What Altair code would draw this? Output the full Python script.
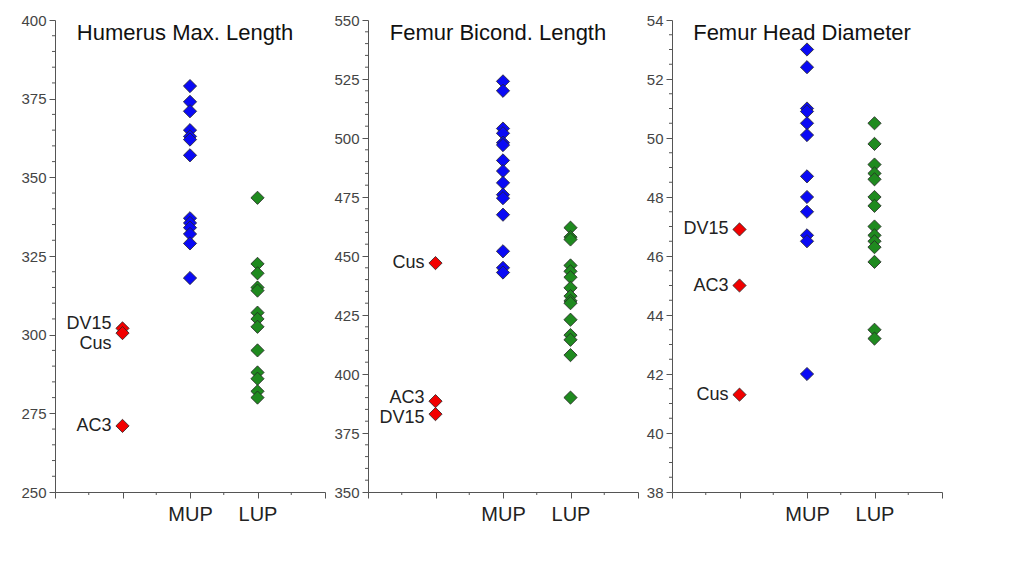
import altair as alt
import pandas as pd

# ---------------- data ----------------
titles = ["Humerus Max. Length", "Femur Bicond. Length", "Femur Head Diameter"]

hum_mup = [379, 374, 371, 365, 363, 362, 357, 337, 335.5, 334, 332, 329, 318]
hum_lup = [343.5, 322.5, 319.5, 315, 314, 307, 305, 302.5, 295, 288, 286, 282, 280]
hum_spec_names = ["DV15", "Cus", "AC3"]
hum_spec_vals = [302, 300.5, 271]

fem_mup = [524, 520, 504, 502, 498, 497, 490.5, 486, 481, 476, 474.5, 467.5, 452, 445, 443]
fem_lup = [462, 458, 457, 446, 443.5, 441, 436.5, 433, 431, 430, 423, 416.5, 414.5, 408, 390]
fem_spec_names = ["Cus", "AC3", "DV15"]
fem_spec_vals = [447, 388.5, 383]

head_mup = [53.0, 52.4, 51.0, 50.9, 50.5, 50.1, 48.7, 48.0, 47.5, 46.7, 46.5, 42.0]
head_lup = [50.5, 49.8, 49.1, 48.8, 48.6, 48.0, 47.7, 47.0, 46.7, 46.5, 46.3, 45.8, 43.5, 43.2]
head_spec_names = ["DV15", "AC3", "Cus"]
head_spec_vals = [46.9, 45.0, 41.3]

y_domains = [(250, 400), (350, 550), (38, 54)]
y_major = [25, 25, 2]
y_minor = [5, 5, 0.5]

# ---------------- helpers ----------------
GROUP_POS = {"spec": 2, "MUP": 4, "LUP": 6}
COLORS = {"spec": "#f20000", "MUP": "#0a0af5", "LUP": "#1f8a1f"}
FONT = "Liberation Sans"
W, H = 270, 472
AXIS_COLOR = "#555"

# label vertical nudges (pixels) to keep overlapping labels readable
NUDGE = {
    0: {"DV15": -4, "Cus": 11, "AC3": 0},
    1: {"Cus": 0, "AC3": -3, "DV15": 4},
    2: {"DV15": 0, "AC3": 0, "Cus": 0},
}


def frame(mup, lup, names, vals):
    rows = []
    for v in mup:
        rows.append({"group": "MUP", "value": v, "name": ""})
    for v in lup:
        rows.append({"group": "LUP", "value": v, "name": ""})
    for n, v in zip(names, vals):
        rows.append({"group": "spec", "value": v, "name": n})
    df = pd.DataFrame(rows)
    df["pos"] = df["group"].map(GROUP_POS)
    return df


def panel(i, df):
    lo, hi = y_domains[i]
    maj, mnr = y_major[i], y_minor[i]
    nmaj = int(round((hi - lo) / maj))
    major_vals = [float(lo + k * maj) for k in range(nmaj + 1)]
    nmin = int(round((hi - lo) / mnr))
    minor_vals = [round(lo + k * mnr, 3) for k in range(nmin + 1)]
    minor_vals = [v for v in minor_vals if all(abs(v - m) > 1e-6 for m in major_vals)]

    xscale = alt.Scale(domain=[0, 8], nice=False, zero=False)
    yscale = alt.Scale(domain=[lo, hi], nice=False, zero=False)

    xaxis = alt.Axis(
        values=[0, 2, 4, 6, 8],
        labelExpr="datum.value == 4 ? 'MUP' : datum.value == 6 ? 'LUP' : ''",
        title=None,
        grid=False,
        labelFontSize=20,
        labelColor="#222",
        labelFont=FONT,
        labelPadding=6,
        labelFlush=False,
        labelOverlap=False,
        tickSize=6,
        tickColor=AXIS_COLOR,
        domainColor=AXIS_COLOR,
    )
    yaxis = alt.Axis(
        values=major_vals,
        title=None,
        grid=False,
        labelFontSize=15,
        labelColor="#444",
        labelFont=FONT,
        labelPadding=3,
        labelOverlap=False,
        tickSize=6,
        tickColor=AXIS_COLOR,
        domainColor=AXIS_COLOR,
    )

    def X(field="pos"):
        return alt.X(f"{field}:Q", scale=xscale, axis=xaxis)

    def Y(field="value"):
        return alt.Y(f"{field}:Q", scale=yscale, axis=yaxis)

    base = alt.Chart(df)
    pts = base.mark_point(
        shape="diamond", filled=True, size=175, stroke="#262626", strokeWidth=0.8, opacity=1
    ).encode(
        x=X(),
        y=Y(),
        color=alt.Color(
            "group:N",
            scale=alt.Scale(domain=list(COLORS.keys()), range=list(COLORS.values())),
            legend=None,
        ),
    )
    layers = [pts]

    # minor ticks on the y axis
    ymin_df = pd.DataFrame({"value": minor_vals})
    ymin = alt.Chart(ymin_df).mark_rule(color=AXIS_COLOR, strokeWidth=1).encode(
        y=Y(),
        x=alt.value(1),
        x2=alt.value(-3),
    )
    # minor ticks on the x axis
    xmin_df = pd.DataFrame({"pos": [1, 3, 5, 7]})
    xmin = alt.Chart(xmin_df).mark_rule(color=AXIS_COLOR, strokeWidth=1).encode(
        x=X(),
        y=alt.value(H),
        y2=alt.value(H + 3),
    )
    layers += [ymin, xmin]

    for name, dy in NUDGE[i].items():
        lab = base.transform_filter(alt.datum.name == name).mark_text(
            align="right", baseline="middle", dx=-11, dy=dy, fontSize=18, font=FONT, color="#222"
        ).encode(x=X(), y=Y(), text="name:N")
        layers.append(lab)
    title = alt.Chart(pd.DataFrame({"t": [titles[i]]})).mark_text(
        align="center", baseline="alphabetic", fontSize=22, font=FONT, color="#111"
    ).encode(x=alt.value(130), y=alt.value(20), text="t:N")
    layers.append(title)
    return alt.layer(*layers).properties(width=W, height=H)


p1 = panel(0, frame(hum_mup, hum_lup, hum_spec_names, hum_spec_vals))
p2 = panel(1, frame(fem_mup, fem_lup, fem_spec_names, fem_spec_vals))
p3 = panel(2, frame(head_mup, head_lup, head_spec_names, head_spec_vals))

chart = (
    alt.hconcat(p1, p2, p3, spacing=7)
    .properties(padding={"left": 12, "top": 5, "right": 5, "bottom": 5}, background="white")
    .configure_view(stroke=None)
)

chart.save("out.html", embed_options={"renderer": "svg", "actions": False})
